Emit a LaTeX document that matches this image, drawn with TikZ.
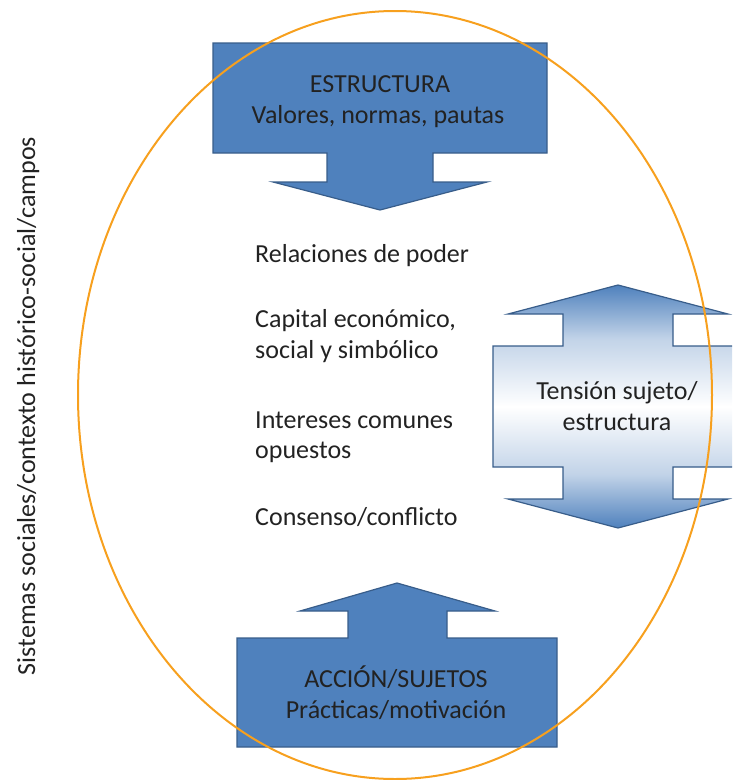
\documentclass[tikz,border=0pt]{standalone}
\usepackage{fontspec}
\setmainfont{Carlito}
\definecolor{boxblue}{HTML}{4F81BD}
\definecolor{boxedge}{HTML}{385D8A}
\definecolor{ring}{HTML}{F7A01E}
\definecolor{ink}{HTML}{222222}
\pgfdeclareverticalshading{tensionshade}{100bp}{color(0bp)=(boxblue); color(25bp)=(boxblue); color(36bp)=(boxblue!35!white); color(50bp)=(white); color(64bp)=(boxblue!35!white); color(75bp)=(boxblue); color(100bp)=(boxblue)}
\begin{document}
\begin{tikzpicture}[x=1pt,y=-1pt,
  calloutbox/.style={fill=boxblue,draw=boxedge,line width=1.2pt,line join=miter},
  tensionbox/.style={draw=boxedge,line width=1.2pt,shading=tensionshade},
  ringline/.style={draw=ring,line width=2pt},
  lbl/.style={font=\fontsize{26}{32}\selectfont,text=ink,inner sep=0pt}]
\useasboundingbox (0,0) rectangle (732,780);
\begin{scope}
\clip (0,0) rectangle (732,780);
% top callout (ESTRUCTURA)
\draw[calloutbox] (213,43) -- (547,43) -- (547,153) -- (433,153) -- (433,182) -- (487,182) -- (380,210) -- (273,182) -- (327,182) -- (327,153) -- (213,153) -- cycle;
% right double arrow (tension)
\draw[tensionbox] (618,285) -- (728,314) -- (673,314) -- (673,346) -- (745,346) -- (745,467) -- (673,467) -- (673,499) -- (728,499) -- (618,528) -- (508,499) -- (563,499) -- (563,467) -- (493,467) -- (493,346) -- (563,346) -- (563,314) -- (508,314) -- cycle;
% bottom callout (ACCION)
\draw[calloutbox] (397,583) -- (495,611) -- (447,611) -- (447,638) -- (557,638) -- (557,747) -- (237,747) -- (237,638) -- (348,638) -- (348,611) -- (300,611) -- cycle;
% orange ring
\draw[ringline] (395,395) ellipse [x radius=317pt, y radius=384pt];
\end{scope}
% texts
\node[lbl,anchor=base] (estr) at (380,92) {ESTRUCTURA};
\node[lbl,anchor=base] (valores) at (378,123) {Valores, normas, pautas};
\node[lbl,anchor=base west] (rel) at (255,262) {Relaciones de poder};
\node[lbl,anchor=base west] (cap1) at (255,327) {Capital económico,};
\node[lbl,anchor=base west] (cap2) at (255,358) {social y simbólico};
\node[lbl,anchor=base west] (int1) at (255,428) {Intereses comunes};
\node[lbl,anchor=base west] (int2) at (255,458) {opuestos};
\node[lbl,anchor=base west] (cons) at (255,525) {Consenso/conflicto};
\node[lbl,anchor=base] (tension) at (617,399) {Tensión sujeto/};
\node[lbl,anchor=base] (estr2) at (617,430) {estructura};
\node[lbl,anchor=base] (accion) at (396,687) {ACCIÓN/SUJETOS};
\node[lbl,anchor=base] (practicas) at (396,718) {Prácticas/motivación};
\node[lbl,anchor=base,rotate=90] (sistemas) at (35,406) {Sistemas sociales/contexto histórico-social/campos};
\end{tikzpicture}
\end{document}
